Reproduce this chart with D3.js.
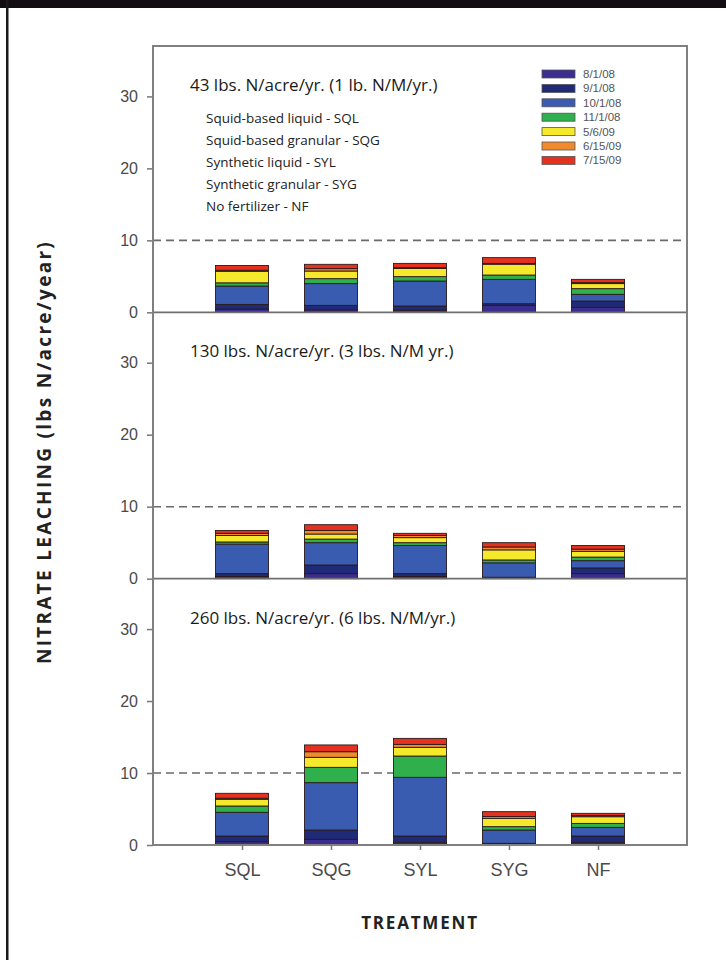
<!DOCTYPE html>
<html>
<head>
<meta charset="utf-8">
<script src="https://cdn.jsdelivr.net/npm/d3@7"></script>
<style>
  html, body { margin: 0; padding: 0; background: #fff; }
  svg { display: block; }
</style>
</head>
<body>
<svg id="chart" width="726" height="960"></svg>
<script>
// ---------------- DATA ----------------
const categories = ["SQL", "SQG", "SYL", "SYG", "NF"];
const dates = ["8/1/08", "9/1/08", "10/1/08", "11/1/08", "5/6/09", "6/15/09", "7/15/09"];
const dateColors = ["#3b2d8f", "#1f2a78", "#3a5cb0", "#2fb04c", "#f6e92c", "#f08a2c", "#e5321f"];
const yTicks = [0, 10, 20, 30];
const threshold = 10;
const panelTitles = [
  "43 lbs. N/acre/yr. (1 lb. N/M/yr.)",
  "130 lbs. N/acre/yr. (3 lbs. N/M yr.)",
  "260 lbs. N/acre/yr. (6 lbs. N/M/yr.)"
];
const treatmentNames = [
  "Squid-based liquid - SQL",
  "Squid-based granular - SQG",
  "Synthetic liquid - SYL",
  "Synthetic granular - SYG",
  "No fertilizer - NF"
];
// rows: SQL, SQG, SYL, SYG, NF ; columns: the 7 sampling dates
const rate43 = [
  [0.45, 0.65, 2.55, 0.45, 1.60, 0.15, 0.65],
  [0.35, 0.62, 3.02, 0.69, 1.06, 0.33, 0.60],
  [0.30, 0.58, 3.47, 0.61, 1.14, 0.10, 0.60],
  [0.95, 0.25, 3.38, 0.60, 1.50, 0.12, 0.80],
  [0.70, 0.87, 0.93, 0.79, 0.70, 0.14, 0.45]
];
const rate130 = [
  [0.30, 0.40, 4.10, 0.30, 0.90, 0.30, 0.40],
  [0.70, 1.20, 3.10, 0.50, 0.70, 0.50, 0.80],
  [0.30, 0.40, 3.90, 0.40, 0.70, 0.30, 0.30],
  [0.10, 0.10, 2.00, 0.40, 1.40, 0.40, 0.60],
  [0.70, 0.80, 1.00, 0.50, 0.80, 0.30, 0.50]
];
const rate260 = [
  [0.46, 0.79, 3.29, 0.88, 0.93, 0.15, 0.68],
  [0.79, 1.29, 6.58, 2.13, 1.39, 0.78, 0.94],
  [0.32, 0.93, 8.15, 2.96, 1.21, 0.41, 0.83],
  [0.10, 0.13, 1.85, 0.47, 1.15, 0.25, 0.68],
  [0.32, 0.93, 1.20, 0.55, 0.93, 0.15, 0.32]
];
const panels = [rate43, rate130, rate260];

// ---------------- LAYOUT ----------------
const svg = d3.select("#chart");
const plotLeft = 153, plotRight = 687, plotTop = 46, plotBottom = 845;
const panelH = (plotBottom - plotTop) / 3;
const yMax = 37;
const barWidth = 53;

// frame of the page
svg.append("rect").attr("x", 0).attr("y", 0).attr("width", 726).attr("height", 8).attr("fill", "#120d10");
svg.append("rect").attr("x", 6).attr("y", 0).attr("width", 2.5).attr("height", 960).attr("fill", "#1a1a1a");

const x = d3.scalePoint().domain(categories).range([plotLeft, plotRight]).padding(1);
const stack = d3.stack().keys(d3.range(dates.length));

panels.forEach((rows, p) => {
  const top = plotTop + p * panelH;
  const bottom = top + panelH;
  const y = d3.scaleLinear().domain([0, yMax]).range([bottom, top]);
  const g = svg.append("g");

  // threshold dashed line
  g.append("line")
    .attr("x1", plotLeft).attr("x2", plotRight)
    .attr("y1", y(threshold)).attr("y2", y(threshold))
    .attr("stroke", "#6a6a6a").attr("stroke-width", 1.6)
    .attr("stroke-dasharray", "8,5");

  // stacked bars
  const data = rows.map((r, i) => {
    const o = { cat: categories[i] };
    r.forEach((v, j) => o[j] = v);
    return o;
  });
  const series = stack(data);
  series.forEach((s, j) => {
    g.selectAll(null).data(s).enter().append("rect")
      .attr("x", d => x(d.data.cat) - barWidth / 2)
      .attr("width", barWidth)
      .attr("y", d => y(d[1]))
      .attr("height", d => y(d[0]) - y(d[1]))
      .attr("fill", dateColors[j])
      .attr("stroke", "#2a1a1a")
      .attr("stroke-width", 0.9);
  });

  // y axis
  const axis = d3.axisLeft(y).tickValues(yTicks).tickSize(6).tickPadding(9);
  const ag = g.append("g").attr("transform", `translate(${plotLeft},0)`).call(axis);
  ag.select(".domain").remove();
  ag.selectAll(".tick line").attr("stroke", "#777").attr("stroke-width", 1.5);
  ag.selectAll(".tick text")
    .attr("fill", "#4a4a4a")
    .attr("font-family", "'Liberation Sans', Arial, sans-serif")
    .attr("font-size", 16);

  // panel baseline
  g.append("line")
    .attr("x1", plotLeft).attr("x2", plotRight)
    .attr("y1", bottom).attr("y2", bottom)
    .attr("stroke", "#6f6f6f").attr("stroke-width", 1.8);

  // panel title
  g.append("text")
    .attr("x", 190).attr("y", top + 45)
    .attr("font-family", "'Open Sans', sans-serif")
    .attr("font-size", 17)
    .attr("fill", "#1a1a1a")
    .text(panelTitles[p]);
});

// plot frame
svg.append("rect")
  .attr("x", plotLeft).attr("y", plotTop)
  .attr("width", plotRight - plotLeft).attr("height", plotBottom - plotTop)
  .attr("fill", "none").attr("stroke", "#808080").attr("stroke-width", 2);

// treatment key text
svg.append("g").selectAll("text").data(treatmentNames).enter().append("text")
  .attr("x", 206).attr("y", (d, i) => 123 + i * 22)
  .attr("font-family", "'Open Sans', sans-serif")
  .attr("font-size", 13.5)
  .attr("fill", "#222")
  .text(d => d);

// legend
const leg = svg.append("g");
dates.forEach((d, i) => {
  const ly = 74 + i * 14.4;
  leg.append("rect")
    .attr("x", 542).attr("y", ly - 4).attr("width", 33).attr("height", 8)
    .attr("fill", dateColors[i]).attr("stroke", "#555").attr("stroke-width", 0.8);
  leg.append("text")
    .attr("x", 583).attr("y", ly + 4)
    .attr("font-family", "'Liberation Sans', Arial, sans-serif")
    .attr("font-size", 11.5)
    .attr("fill", "#555")
    .text(d);
});

// x axis
const xa = svg.append("g").attr("transform", `translate(0,${plotBottom})`)
  .call(d3.axisBottom(x).tickSize(5).tickPadding(13));
xa.select(".domain").remove();
xa.selectAll(".tick line").attr("stroke", "#777").attr("stroke-width", 1.5);
xa.selectAll(".tick text")
  .attr("fill", "#4a4a4a")
  .attr("font-family", "'Liberation Sans', Arial, sans-serif")
  .attr("font-size", 18);

// axis titles
svg.append("text")
  .attr("x", 420).attr("y", 929)
  .attr("text-anchor", "middle")
  .attr("font-family", "'Open Sans', sans-serif")
  .attr("font-weight", "bold")
  .attr("font-size", 17)
  .attr("letter-spacing", 1.8)
  .attr("fill", "#222")
  .text("TREATMENT");

svg.append("text")
  .attr("transform", `translate(51,452) rotate(-90)`)
  .attr("text-anchor", "middle")
  .attr("font-family", "'Open Sans', sans-serif")
  .attr("font-weight", "bold")
  .attr("font-size", 19)
  .attr("letter-spacing", 2.3)
  .attr("fill", "#222")
  .text("NITRATE LEACHING (lbs N/acre/year)");
</script>
</body>
</html>
